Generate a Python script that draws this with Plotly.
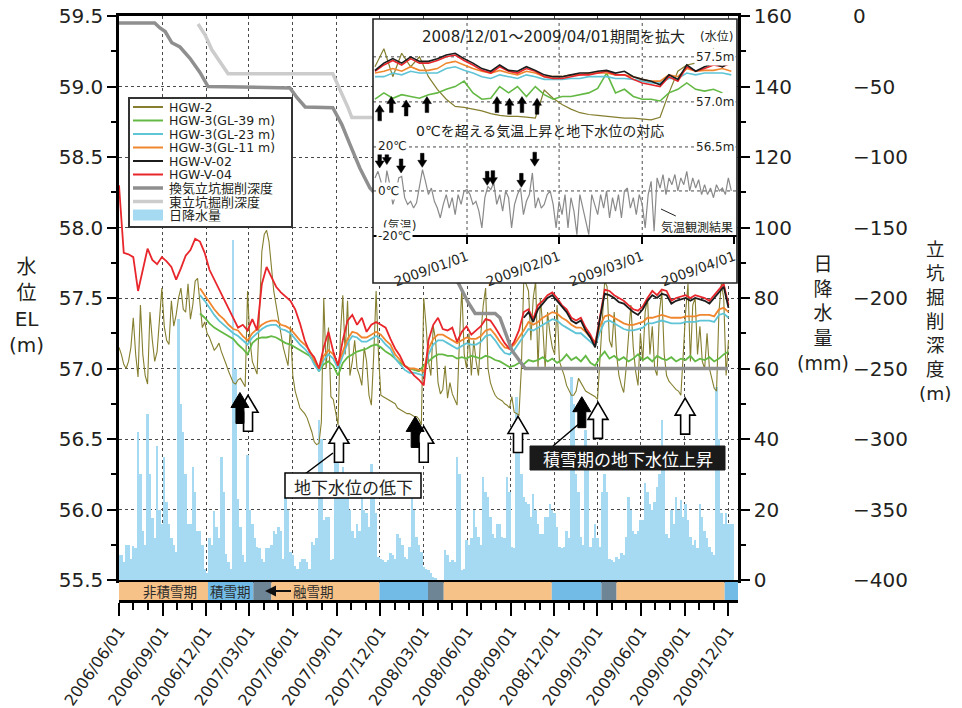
import pandas as pd
import plotly.graph_objects as go

# ============================ DATA ============================
# Main chart ---------------------------------------------------------------------------
HGW2_START, HGW2_FREQ = "2006-06-01", "5D"
hgw2 = [
    57.15, 57.10, 57.03, 57.00, 57.05, 57.15, 57.36, 57.10, 56.94, 57.45, 57.10, 56.95, 56.89, 57.40, 57.20, 57.05, 57.12, 57.35, 57.57, 57.30,
    57.20, 57.17, 57.48, 57.30, 57.38, 57.50, 57.57, 57.42, 57.40, 57.60, 57.35, 57.45, 57.62, 57.64, 57.45, 57.29, 57.33, 57.25, 57.22, 57.18,
    57.13, 57.15, 57.18, 57.12, 57.08, 57.03, 56.98, 56.94, 56.90, 56.89, 56.92, 56.93, 56.90, 56.87, 57.55, 57.20, 57.05, 57.00, 56.96, 57.40,
    57.83, 57.95, 57.98, 57.90, 57.72, 57.55, 57.45, 57.36, 57.25, 57.15, 57.08, 57.02, 57.30, 56.95, 56.84, 56.78, 56.72, 56.70, 56.68, 56.65,
    56.60, 56.55, 56.48, 56.46, 56.47, 56.62, 57.50, 57.00, 57.29, 56.80, 56.78, 56.70, 56.60, 57.24, 57.52, 57.10, 57.48, 56.95, 57.05, 57.20,
    57.00, 56.95, 56.88, 57.15, 57.05, 56.81, 56.74, 57.10, 57.55, 57.10, 56.81, 56.80, 56.79, 56.78, 56.77, 56.76, 56.75, 56.72, 56.71, 56.70,
    56.69, 56.68, 56.68, 56.67, 56.66, 56.66, 56.64, 56.60, 57.50, 57.30, 57.05, 56.95, 57.30, 57.20, 56.90, 56.82, 56.85, 57.02, 56.79, 56.90,
    56.82, 56.78, 56.74, 57.20, 57.57, 57.10, 57.00, 57.25, 56.95, 57.20, 57.05, 56.95, 57.25, 57.45, 57.57, 57.00, 56.90, 56.85, 56.81, 56.79,
    56.78, 56.77, 56.75, 56.74, 56.72, 56.80, 56.69, 56.68, 56.67, 57.00, 57.62, 57.60, 57.55, 57.20, 57.50, 57.62, 57.00, 57.50, 57.30, 57.00,
    57.40, 57.25, 57.15, 57.10, 57.45, 57.05, 57.00, 56.95, 56.88, 56.85, 56.81, 56.81, 56.84, 56.93, 56.90, 56.86, 56.84, 56.83, 56.82, 56.81,
    56.80, 56.78, 57.05, 57.30, 57.62, 57.58, 57.20, 57.15, 57.40, 57.10, 56.95, 56.88, 56.83, 57.00, 57.25, 57.45, 57.15, 56.98, 56.88, 57.25,
    57.05, 57.40, 57.50, 57.10, 57.30, 57.00, 56.95, 57.40, 57.55, 57.10, 56.95, 56.91, 56.89, 56.87, 56.85, 56.84, 56.81, 57.10, 57.40, 57.60,
    57.05, 57.45, 57.50, 57.10, 57.30, 57.05, 57.00, 57.25, 57.00, 56.93, 56.86, 56.84, 57.40, 57.60, 57.50, 56.95, 57.20,
]
V04_START, V04_FREQ = "2006-06-01", "10D"
hgw_v04 = [
    58.30, 57.82, 57.81, 57.79, 57.55, 57.70, 57.85, 57.77, 57.74, 57.79, 57.76, 57.72, 57.63, 57.71, 57.80, 57.84, 57.92, 57.90, 57.82, 57.70,
    57.63, 57.56, 57.50, 57.43, 57.36, 57.29, 57.31, 57.27, 57.35, 57.27, 57.60, 57.72, 57.65, 57.58, 57.54, 57.51, 57.48, 57.42, 57.32, 57.20,
    57.12, 57.08, 57.00, 57.15, 57.26, 57.12, 57.02, 57.20, 57.34, 57.38, 57.31, 57.36, 57.26, 57.31, 57.33, 57.31, 57.29, 57.21, 57.14, 57.09,
    57.02, 56.99, 56.95, 56.92, 56.88, 57.20, 57.31, 57.36, 57.28, 57.27, 57.29, 57.19, 57.26, 57.30, 57.24, 57.27, 57.30, 57.35, 57.34, 57.29,
    57.23, 57.18, 57.14, 57.19, 57.27, 57.40, 57.42, 57.35, 57.45, 57.48, 57.52, 57.54, 57.50, 57.45, 57.42, 57.36, 57.34, 57.36, 57.29, 57.24,
    57.17, 57.38, 57.56, 57.55, 57.52, 57.50, 57.48, 57.45, 57.42, 57.41, 57.44, 57.50, 57.55, 57.52, 57.56, 57.55, 57.48, 57.50, 57.51, 57.52,
    57.50, 57.52, 57.51, 57.50, 57.48, 57.52, 57.56, 57.60, 57.45,
]
HGW3_START, HGW3_FREQ = "2006-11-18", "10D"
hgw3_gl39 = [
    57.39, 57.36, 57.32, 57.29, 57.27, 57.25, 57.23, 57.21, 57.17, 57.14, 57.10, 57.18, 57.21, 57.22, 57.22, 57.23, 57.22, 57.20, 57.18, 57.17,
    57.15, 57.13, 57.11, 57.09, 57.05, 56.98, 57.03, 57.05, 57.02, 56.95, 57.04, 57.08, 57.10, 57.12, 57.13, 57.14, 57.16, 57.17, 57.15, 57.12,
    57.10, 57.07, 57.04, 57.02, 57.00, 56.99, 56.98, 57.02, 57.05, 57.08, 57.10, 57.10, 57.09, 57.09, 57.07, 57.08, 57.07, 57.09, 57.08, 57.07,
    57.09, 57.08, 57.06, 57.05, 57.03, 57.01, 57.02, 57.04, 57.03, 57.06, 57.05, 57.06, 57.08, 57.05, 57.07, 57.04, 57.06, 57.10, 57.06, 57.08,
    57.05, 57.09, 57.04, 57.02, 57.08, 57.12, 57.07, 57.09, 57.06, 57.08, 57.05, 57.07, 57.10, 57.06, 57.08, 57.05, 57.09, 57.07, 57.06, 57.08,
    57.05, 57.07, 57.06, 57.09, 57.05, 57.07, 57.06, 57.08, 57.05, 57.07, 57.10, 57.12,
]
hgw3_gl23 = [
    57.52, 57.48, 57.43, 57.38, 57.34, 57.31, 57.28, 57.25, 57.23, 57.20, 57.17, 57.22, 57.25, 57.28, 57.30, 57.31, 57.31, 57.28, 57.27, 57.25,
    57.21, 57.17, 57.14, 57.10, 57.03, 56.98, 57.06, 57.10, 57.07, 57.00, 57.09, 57.18, 57.23, 57.22, 57.19, 57.19, 57.21, 57.23, 57.21, 57.17,
    57.14, 57.07, 57.03, 56.99, 56.97, 56.97, 56.96, 56.95, 57.10, 57.17, 57.20, 57.20, 57.18, 57.16, 57.14, 57.16, 57.18, 57.17, 57.17, 57.19,
    57.23, 57.24, 57.20, 57.15, 57.11, 57.10, 57.13, 57.18, 57.23, 57.28, 57.27, 57.29, 57.31, 57.33, 57.35, 57.34, 57.31, 57.29, 57.27, 57.25,
    57.25, 57.22, 57.19, 57.16, 57.26, 57.33, 57.34, 57.32, 57.30, 57.28, 57.27, 57.27, 57.28, 57.29, 57.32, 57.32, 57.33, 57.34, 57.33, 57.32,
    57.32, 57.32, 57.33, 57.33, 57.33, 57.34, 57.34, 57.34, 57.33, 57.38, 57.39, 57.36,
]
hgw3_gl11 = [
    57.57, 57.52, 57.47, 57.42, 57.38, 57.35, 57.31, 57.28, 57.27, 57.23, 57.20, 57.25, 57.28, 57.31, 57.33, 57.34, 57.34, 57.31, 57.30, 57.28,
    57.24, 57.20, 57.17, 57.13, 57.06, 57.00, 57.09, 57.13, 57.10, 57.03, 57.12, 57.21, 57.26, 57.25, 57.22, 57.22, 57.24, 57.26, 57.24, 57.20,
    57.17, 57.10, 57.06, 57.02, 57.00, 57.00, 56.99, 56.98, 57.14, 57.21, 57.24, 57.24, 57.22, 57.20, 57.18, 57.20, 57.22, 57.21, 57.21, 57.23,
    57.27, 57.28, 57.24, 57.19, 57.15, 57.14, 57.17, 57.22, 57.27, 57.33, 57.31, 57.33, 57.36, 57.38, 57.40, 57.39, 57.36, 57.34, 57.31, 57.29,
    57.29, 57.26, 57.22, 57.19, 57.30, 57.37, 57.38, 57.36, 57.34, 57.32, 57.31, 57.31, 57.32, 57.33, 57.36, 57.36, 57.37, 57.38, 57.37, 57.36,
    57.36, 57.36, 57.37, 57.37, 57.37, 57.38, 57.38, 57.38, 57.37, 57.42, 57.43, 57.40,
]
V02_START, V02_FREQ = "2008-09-28", "10D"
hgw_v02 = [
    57.36, 57.40, 57.33, 57.42, 57.46, 57.50, 57.52, 57.48, 57.44, 57.40, 57.34, 57.32, 57.34, 57.27, 57.22, 57.15, 57.35, 57.53, 57.52, 57.50,
    57.47, 57.46, 57.43, 57.40, 57.38, 57.42, 57.48, 57.52, 57.50, 57.53, 57.52, 57.46, 57.48, 57.49, 57.50, 57.48, 57.50, 57.49, 57.48, 57.46,
    57.50, 57.54, 57.58, 57.43,
]
RAIN_START, RAIN_FREQ = "2006-06-01", "5D"
rain_mm = [
    7, 7, 5, 10, 10, 6, 9.7, 9, 42, 30, 14, 10, 47, 30, 17.5, 12, 38, 20, 16, 35,
    22, 16, 12, 10, 8, 74, 50, 42, 30, 16, 16, 32, 25, 14, 14, 10, 3, 2, 12, 10,
    19.7, 15, 12, 35, 25, 7.5, 5, 3, 96.5, 60, 23, 15, 7, 5, 35.6, 20, 16, 12, 9.5, 9,
    6, 5, 9, 9, 10, 14, 13, 15, 14, 6, 23.6, 20, 8, 7, 4, 3, 5, 6, 6, 5,
    3, 10.9, 10, 12, 45.4, 40, 17, 18, 18, 5.7, 6, 34, 34, 30, 32, 28, 23.6, 20, 14, 12,
    16, 14, 23.6, 20, 18.9, 15, 33, 25, 18.9, 6.6, 6, 5.7, 5, 5.7, 7.6, 7, 6, 13, 12, 10,
    6.6, 6, 9.5, 23.6, 20, 12.3, 10, 8, 3.8, 3, 2.8, 2, 0.9, 0.5, 0, 0, 0, 8.5, 7, 5,
    5.7, 5, 35, 30, 2.8, 3, 11.3, 10, 12, 19.8, 15, 12.3, 10, 29.3, 25, 23.6, 18, 13, 12, 16,
    16, 12.3, 12, 29.3, 25, 9.5, 9, 52, 45, 30, 23.6, 22, 21.7, 18, 24.5, 20, 16, 13, 13, 18,
    18, 21.7, 20, 18.9, 15, 9.5, 9, 9.5, 14, 12, 57.7, 50, 30.2, 25, 12.3, 10, 42.5, 35, 9.5, 12,
    16, 12, 9.5, 25, 30.2, 25, 6, 5.7, 5, 6.6, 6, 7.6, 7, 12.3, 23.6, 20, 14, 13, 14, 17,
    17, 27.4, 25, 21.7, 20, 22, 26.5, 30, 45.4, 35, 13, 12, 19.8, 16, 23.6, 20, 22.7, 18, 21.7, 17,
    12.3, 10, 11.3, 9, 21.7, 18, 14, 12, 9.5, 8, 7, 54.8, 40, 18.9, 16, 18.9, 16, 16, 16,
]
vent_dates = ["2006-06-01", "2006-08-15", "2006-08-26", "2006-09-06", "2006-09-20", "2006-10-07", "2006-10-28",
              "2006-11-18", "2006-12-05", "2007-05-26", "2007-06-10", "2007-06-27", "2007-08-24", "2007-09-12",
              "2007-09-29", "2007-10-20", "2007-11-10", "2008-05-13", "2008-06-03", "2008-06-18", "2008-07-30",
              "2008-08-09", "2008-09-03", "2008-10-01", "2009-12-01"]
vent_depth = [-5, -5, -8.5, -11, -19, -22, -30, -40, -50, -51, -58, -64.5, -65, -77, -91, -108, -122,
              -189, -203, -211, -211, -214, -237, -250, -250]
east_dates = ["2006-11-14", "2006-11-29", "2006-12-13", "2006-12-30", "2007-01-16", "2007-08-24", "2007-09-08",
              "2007-09-25", "2007-10-03", "2007-11-23"]
east_depth = [-5.7, -13.5, -24, -33, -41, -41, -52, -65, -72, -72]

season_starts = ["2006-06-01", "2006-12-05", "2007-03-10", "2007-04-17", "2007-11-30", "2008-03-11",
                 "2008-04-13", "2008-11-26", "2009-03-10", "2009-04-11", "2009-11-24"]
season_kinds = ["非積雪期", "積雪期", "融雪期", "非積雪期", "積雪期", "融雪期",
                "非積雪期", "積雪期", "融雪期", "非積雪期", "積雪期"]
SEASON_END = "2009-12-22"

# Inset (2008/12/01 - 2009/04/01) --------------------------------------------------------
INSET_START, INSET_FREQ = "2008-12-01", "3D"
in_hgw2 = [57.39, 57.59, 57.28, 57.54, 57.39, 57.50, 57.28, 57.14, 57.03, 56.95, 56.94, 56.92, 56.90, 56.87,
           56.85, 56.84, 56.84, 56.83, 56.82, 57.13, 57.04, 56.97, 56.92, 56.88, 56.86, 56.85, 56.84, 56.83,
           56.82, 56.82, 56.81, 56.80, 56.83, 57.10, 57.34, 57.41, 57.43, 57.46, 57.59, 57.46, 57.41]
in_gl39 = [57.03, 57.10, 57.04, 57.08, 57.06, 57.04, 57.08, 57.10, 57.14, 57.17, 57.23, 57.10, 57.03, 57.04,
           57.17, 57.10, 57.17, 57.06, 57.17, 57.08, 57.03, 57.06, 57.06, 57.08, 57.10, 57.15, 57.32, 57.10,
           57.14, 57.06, 57.03, 57.03, 57.01, 57.10, 57.14, 57.21, 57.14, 57.12, 57.14, 57.10, None]
in_gl23 = [57.28, 57.28, 57.32, 57.30, 57.34, 57.32, 57.32, 57.32, 57.37, 57.39, 57.35, 57.32, 57.28, 57.26,
           57.30, 57.28, 57.26, 57.30, 57.28, 57.25, 57.25, 57.25, 57.26, 57.26, 57.28, 57.28, 57.28, 57.26,
           57.26, 57.25, 57.23, 57.21, 57.21, 57.26, 57.26, 57.32, 57.30, 57.32, 57.32, 57.32, 57.30]
in_gl11 = [57.32, 57.34, 57.37, 57.34, 57.39, 57.35, 57.35, 57.37, 57.43, 57.45, 57.41, 57.37, 57.34, 57.32,
           57.35, 57.32, 57.30, 57.34, 57.32, 57.28, 57.28, 57.28, 57.30, 57.30, 57.32, 57.32, 57.32, 57.30,
           57.30, 57.28, 57.25, 57.23, 57.23, 57.30, 57.28, 57.37, 57.34, 57.35, 57.35, 57.37, 57.34]
in_v04 = [57.34, 57.41, 57.46, 57.41, 57.48, 57.43, 57.43, 57.46, 57.50, 57.52, 57.46, 57.41, 57.35, 57.32,
          57.39, 57.34, 57.32, 57.37, 57.34, 57.28, 57.26, 57.26, 57.28, 57.30, 57.30, 57.32, 57.34, 57.30,
          57.30, 57.25, 57.21, 57.19, 57.17, 57.28, 57.23, 57.39, 57.34, 57.37, 57.41, 57.39, 57.43]
in_v02 = [57.35, 57.43, 57.48, 57.43, 57.50, 57.45, 57.45, 57.48, 57.52, 57.54, 57.48, 57.43, 57.37, 57.34,
          57.41, 57.35, 57.34, 57.39, 57.35, 57.30, 57.28, 57.28, 57.30, 57.32, 57.32, 57.34, 57.35, 57.32,
          57.34, 57.28, 57.25, 57.23, 57.19, 57.30, 57.25, 57.41, 57.34, 57.39, 57.43, 57.39, 57.45]
TEMP_START, TEMP_FREQ = "2008-12-01", "1D"
temp_c = [
    5.8, 8.7, 4.3, -3, 9, 2.8, -6, -1.6, 5.8, 6.5,
    -3, -6, -4.6, -7.6, -5.3, 2.8, 9.5, 4.3, -1.6, 1.3,
    -4.6, -7.6, -12, -6, -1.6, -7.6, -3, -10.5, -1.6, -6,
    0, 0.6, -1.6, -6, -4.6, -9, -16.4, -3, 2, 0.6,
    3.6, -6, -1.6, -9, 0, -3, -16.4, -6, -1.6, 1.3,
    -10.5, -4.6, -1.6, 8, -7.6, -3, -7.6, -6, -1.6, 0,
    -6, -16.4, -4.6, -10.5, -1.6, -16.4, -3, -9, -19.4, -1.6,
    -7.6, -13.5, -19.4, -1.6, -6, -10.5, -1.6, -7.6, 0, -12,
    -3, -9, -1.6, -12, 0, 1.3, -7.6, -3, -10.5, -1.6,
    -6, -16.4, -1.6, 4.3, -17.9, 5.8, 1.3, 7.3, -1.6, 5.8,
    2.8, 7.3, 0, 5.8, 2.8, 8.7, 0, 5.8, 1.3, 5,
    -1.6, 2.8, -1.6, 1.3, -3, 2.8, 0, 1.3, -1.6, 5.8,
    0,
]
inset_ticks = ["2009-01-01", "2009-02-01", "2009-03-01", "2009-04-01"]

# Arrow marks (tip position: date, level) ------------------------------------------------
white_arrow_dates = ["2007-02-27", "2007-09-06", "2008-03-02", "2008-09-16", "2009-03-03", "2009-09-02"]
white_arrow_levels = [56.81, 56.59, 56.59, 56.66, 56.76, 56.79]
black_arrow_dates = ["2007-02-10", "2008-02-13", "2009-01-28"]
black_arrow_levels = [56.83, 56.66, 56.80]
inset_up_dates = ["2008-12-02 14:00", "2008-12-06 12:00", "2008-12-11 12:00", "2008-12-18 12:00",
                  "2009-01-11 02:00", "2009-01-15 07:00", "2009-01-19 12:00", "2009-01-24 14:00"]
inset_up_levels = [56.967, 57.059, 57.022, 57.059, 57.059, 57.04, 57.059, 57.04]
inset_down_dates = ["2008-12-02 14:00", "2008-12-05 00:00", "2008-12-09 19:00", "2008-12-16 22:00",
                    "2009-01-07 19:00", "2009-01-09 17:00", "2009-01-19 07:00", "2009-01-23 19:00"]
inset_down_temps = [10.2, 11.7, 8.0, 10.5, 2.5, 2.8, 1.6, 11.0]

# ============================ STYLE / GEOMETRY ============================
FIG_W, FIG_H = 962, 708
ML, MR, MT, MB = 119, 10, 16, 108
PW, PH = FIG_W - ML - MR, FIG_H - MT - MB


def px(x):  # page x (pixels) -> paper fraction
    return (x - ML) / PW


def py(y):  # page y (pixels) -> paper fraction
    return (FIG_H - MB - y) / PH


NUM_FONT = "DejaVu Sans, Noto Sans CJK JP"
JP_FONT = "Noto Sans CJK JP, DejaVu Sans"
TXT = "#231f20"
GRID = "#4a4a4a"
C = dict(hgw2="#857f2f", gl39="#63b944", gl23="#5ec4d6", gl11="#f0862e", v02="#1c1c1c", v04="#e8262b",
         vent="#8f8f8f", east="#cccccc", rain="#a6daf3", temp="#8a8a8a")
SEASON_COL = {"非積雪期": "#f6c287", "積雪期": "#72bbe7", "融雪期": "#6e8596"}
X0, X1 = "2006-06-01", "2009-12-22"
IX0, IX1 = "2008-11-30 08:00", "2009-04-01 22:00"
Y4R = [54.99, 57.92]
Y5R = [-40.9, 76.4]


def drange(start, n, freq):
    return pd.date_range(start, periods=n, freq=freq)


fig = go.Figure()

# ---- main chart traces ----
fig.add_trace(go.Bar(x=drange(RAIN_START, len(rain_mm), RAIN_FREQ), y=rain_mm, width=5 * 86400000,
                     marker=dict(color=C["rain"], line=dict(width=0)), xaxis="x", yaxis="y", name="日降水量"))
main_lines = [
    ("HGW-2", drange(HGW2_START, len(hgw2), HGW2_FREQ), hgw2, C["hgw2"], 1.1),
    ("HGW-3(GL-39 m)", drange(HGW3_START, len(hgw3_gl39), HGW3_FREQ), hgw3_gl39, C["gl39"], 1.8),
    ("HGW-3(GL-23 m)", drange(HGW3_START, len(hgw3_gl23), HGW3_FREQ), hgw3_gl23, C["gl23"], 1.8),
    ("HGW-3(GL-11 m)", drange(HGW3_START, len(hgw3_gl11), HGW3_FREQ), hgw3_gl11, C["gl11"], 1.8),
    ("HGW-V-04", drange(V04_START, len(hgw_v04), V04_FREQ), hgw_v04, C["v04"], 1.8),
    ("HGW-V-02", drange(V02_START, len(hgw_v02), V02_FREQ), hgw_v02, C["v02"], 1.8),
]
for name, xs, ys, col, w in main_lines:
    fig.add_trace(go.Scatter(x=xs, y=ys, mode="lines", name=name, line=dict(color=col, width=w),
                             xaxis="x", yaxis="y2"))
fig.add_trace(go.Scatter(x=vent_dates, y=vent_depth, mode="lines", name="換気立坑掘削深度",
                         line=dict(color=C["vent"], width=3.5), xaxis="x", yaxis="y3"))
fig.add_trace(go.Scatter(x=east_dates, y=east_depth, mode="lines", name="東立坑掘削深度",
                         line=dict(color=C["east"], width=3.5), xaxis="x", yaxis="y3"))

# ---- inset traces ----
ix = drange(INSET_START, len(in_hgw2), INSET_FREQ)
for ys, col, w in [(in_hgw2, C["hgw2"], 1.2), (in_gl39, C["gl39"], 1.6), (in_gl23, C["gl23"], 1.6),
                   (in_gl11, C["gl11"], 1.6), (in_v04, C["v04"], 1.6), (in_v02, C["v02"], 1.6)]:
    fig.add_trace(go.Scatter(x=ix, y=ys, mode="lines", line=dict(color=col, width=w), xaxis="x2", yaxis="y4",
                             connectgaps=False))
fig.add_trace(go.Scatter(x=drange(TEMP_START, len(temp_c), TEMP_FREQ), y=temp_c, mode="lines",
                         line=dict(color=C["temp"], width=1.2), xaxis="x2", yaxis="y5", name="気温"))

# ============================ SHAPES ============================
shapes = []
season_ends = season_starts[1:] + [SEASON_END]
for s, e, k in zip(season_starts, season_ends, season_kinds):
    shapes.append(dict(type="rect", xref="x3", yref="y6", x0=s, x1=e, y0=0, y1=1,
                       fillcolor=SEASON_COL[k], line=dict(width=0), layer="below"))
# inset white background + grid
shapes.append(dict(type="rect", xref="x2", yref="y4", x0=IX0, x1=IX1, y0=Y4R[0], y1=Y4R[1],
                   fillcolor="white", line=dict(width=0), layer="below"))
for lv in [56.5, 57.0, 57.5]:
    shapes.append(dict(type="line", xref="x2", yref="y4", x0=IX0, x1=IX1, y0=lv, y1=lv,
                       line=dict(color=GRID, width=1, dash="dot"), layer="below"))
shapes.append(dict(type="line", xref="x2", yref="y5", x0=IX0, x1=IX1, y0=0, y1=0,
                   line=dict(color=GRID, width=1, dash="dot"), layer="below"))
for t in inset_ticks[:3]:
    shapes.append(dict(type="line", xref="x2", yref="y5", x0=t, x1=t, y0=-20, y1=Y5R[1],
                       line=dict(color=GRID, width=1, dash="dot"), layer="below"))

# legend (custom, compact like the original)
legend_items = [("HGW-2", C["hgw2"], 2, "line"), ("HGW-3(GL-39 m)", C["gl39"], 2, "line"),
                ("HGW-3(GL-23 m)", C["gl23"], 2, "line"), ("HGW-3(GL-11 m)", C["gl11"], 2, "line"),
                ("HGW-V-02", C["v02"], 2, "line"), ("HGW-V-04", C["v04"], 2, "line"),
                ("換気立坑掘削深度", C["vent"], 3.5, "line"), ("東立坑掘削深度", C["east"], 3.5, "line"),
                ("日降水量", C["rain"], 0, "bar")]
shapes.append(dict(type="rect", xref="paper", yref="paper", x0=px(129), x1=px(292), y0=py(227), y1=py(98),
                   fillcolor="white", line=dict(color="#333333", width=2), layer="above"))
annotations = []
for i, (name, col, w, kind) in enumerate(legend_items):
    yy = 107 + 13.5 * i
    if kind == "line":
        shapes.append(dict(type="line", xref="paper", yref="paper", x0=px(133), x1=px(163), y0=py(yy), y1=py(yy),
                           line=dict(color=col, width=w), layer="above"))
    else:
        shapes.append(dict(type="rect", xref="paper", yref="paper", x0=px(133), x1=px(163), y0=py(yy + 5.5),
                           y1=py(yy - 5.5), fillcolor=col, line=dict(width=0), layer="above"))
    ascii_name = all(ord(ch) < 128 for ch in name)
    annotations.append(dict(text=name, xref="paper", yref="paper", x=px(168), y=py(yy), xanchor="left",
                            yanchor="middle", showarrow=False, height=13.4, valign="middle", borderpad=0,
                            font=dict(family=NUM_FONT if ascii_name else JP_FONT, size=12.5 if ascii_name else 13,
                                      color=TXT)))


def up_arrow(hw, head, sw, total):
    return (f"M 0,0 L {hw},{-head} L {sw},{-head} L {sw},{-total} L {-sw},{-total} "
            f"L {-sw},{-head} L {-hw},{-head} Z")


def down_arrow(hw, head, sw, total):
    return (f"M 0,0 L {hw},{head} L {sw},{head} L {sw},{total} L {-sw},{total} "
            f"L {-sw},{head} L {-hw},{head} Z")


for d, lv in zip(white_arrow_dates, white_arrow_levels):
    shapes.append(dict(type="path", path=up_arrow(10, 17, 4.5, 36), xref="x", yref="y2", xsizemode="pixel",
                       ysizemode="pixel", xanchor=d, yanchor=lv, fillcolor="white",
                       line=dict(color="black", width=1.6), layer="above"))
for d, lv in zip(black_arrow_dates, black_arrow_levels):
    shapes.append(dict(type="path", path=up_arrow(9, 15, 4, 31), xref="x", yref="y2", xsizemode="pixel",
                       ysizemode="pixel", xanchor=d, yanchor=lv, fillcolor="black",
                       line=dict(color="black", width=1), layer="above"))
for d, lv in zip(inset_up_dates, inset_up_levels):
    shapes.append(dict(type="path", path=up_arrow(4.5, 7, 1.8, 16), xref="x2", yref="y4", xsizemode="pixel",
                       ysizemode="pixel", xanchor=d, yanchor=lv, fillcolor="black",
                       line=dict(color="black", width=0.5), layer="above"))
for d, tv in zip(inset_down_dates, inset_down_temps):
    shapes.append(dict(type="path", path=down_arrow(4.5, 7, 1.8, 14), xref="x2", yref="y5", xsizemode="pixel",
                       ysizemode="pixel", xanchor=d, yanchor=tv, fillcolor="black",
                       line=dict(color="black", width=0.5), layer="above"))

# call-out boxes and connectors
shapes.append(dict(type="line", xref="paper", yref="paper", x0=px(305), y0=py(474), x1=px(333), y1=py(453),
                   line=dict(color="black", width=1.5), layer="above"))
shapes.append(dict(type="line", xref="paper", yref="paper", x0=px(553), y0=py(446), x1=px(580), y1=py(423),
                   line=dict(color="black", width=1.5), layer="above"))
shapes.append(dict(type="rect", xref="paper", yref="paper", x0=px(285), x1=px(421), y0=py(498), y1=py(473),
                   fillcolor="white", line=dict(color="black", width=1.5), layer="above"))
shapes.append(dict(type="rect", xref="paper", yref="paper", x0=px(530), x1=px(725), y0=py(470), y1=py(446),
                   fillcolor="#1a1a1a", line=dict(color="#1a1a1a", width=1), layer="above"))
# inset border
shapes.append(dict(type="rect", xref="paper", yref="paper", x0=px(373), x1=px(737), y0=py(283), y1=py(19),
                   fillcolor="rgba(0,0,0,0)", line=dict(color="#222222", width=1.6), layer="above"))


# ============================ ANNOTATIONS ============================
def note(text, x, y, size, family=JP_FONT, color=TXT, **kw):
    d = dict(text=text, xref="paper", yref="paper", x=px(x), y=py(y), xanchor="center", yanchor="middle",
             showarrow=False, font=dict(family=family, size=size, color=color))
    d.update(kw)
    annotations.append(d)


note("水<br>位<br>EL<br>(m)", 26, 306, 20, family=NUM_FONT)
note("日<br>降<br>水<br>量<br>(mm)", 823, 314, 19, family=NUM_FONT)
note("立<br>坑<br>掘<br>削<br>深<br>度<br>(m)", 935, 321, 18.5, family=NUM_FONT)

note("地下水位の低下", 353, 486, 17)
note("積雪期の地下水位上昇", 627.5, 458.5, 17, color="white")

note("非積雪期", 170, 591, 13.5, color="#2b2b2b")
note("積雪期", 230, 591, 13.5, color="#2b2b2b")
annotations.append(dict(text="融雪期", xref="paper", yref="paper", x=px(265), y=py(591), ax=48, ay=0,
                        showarrow=True, arrowhead=2, arrowsize=1.1, arrowwidth=2, arrowcolor="#111111",
                        standoff=0, font=dict(family=JP_FONT, size=13.5, color="#2b2b2b")))

note("2008/12/01～2009/04/01期間を拡大", 553, 37, 15, family=NUM_FONT)
note("(水位)", 716, 37, 12, family=NUM_FONT)
note("0℃を超える気温上昇と地下水位の対応", 540, 131, 14, family=NUM_FONT)
note("(気温)", 399, 225, 12, family=NUM_FONT)
annotations.append(dict(text="気温観測結果", xref="paper", yref="paper", x=px(661), y=py(209), ax=36, ay=17,
                        showarrow=True, arrowhead=0, arrowwidth=1, arrowcolor="#222222",
                        font=dict(family=JP_FONT, size=12, color=TXT)))
for lv in [57.5, 57.0, 56.5]:
    annotations.append(dict(text=f"{lv:.1f}m", xref="paper", yref="y4", x=px(736), y=lv, xanchor="right",
                            yanchor="middle", showarrow=False, bgcolor="white",
                            font=dict(family=NUM_FONT, size=12, color=TXT)))
for tv in [20, 0, -20]:
    annotations.append(dict(text=f"{tv}℃", xref="paper", yref="y5", x=px(376), y=tv, xanchor="left",
                            yanchor="middle", showarrow=False, bgcolor="white",
                            font=dict(family=NUM_FONT, size=12, color=TXT)))

# ============================ LAYOUT ============================
tickfont = dict(family=NUM_FONT, size=20, color=TXT)
fig.update_layout(
    template="none",
    width=FIG_W, height=FIG_H, margin=dict(l=ML, r=MR, t=MT, b=MB, pad=0, autoexpand=False),
    paper_bgcolor="white", plot_bgcolor="white", showlegend=False, bargap=0,
    font=dict(family=NUM_FONT, color=TXT, size=14),
    xaxis=dict(type="date", domain=[0, px(738)], range=[X0, X1], anchor="y", showline=True, mirror=True,
               linecolor="black", linewidth=2.5, ticks="", showticklabels=False, showgrid=True, gridcolor=GRID,
               griddash="dot", gridwidth=1, dtick="M3", tick0="2006-06-01", zeroline=False, automargin=False),
    yaxis=dict(domain=[py(580), 1], range=[0, 160], side="right", anchor="x", showline=True, linecolor="black",
               linewidth=2.5, ticks="outside", ticklen=9, tickwidth=2, tickcolor="black", dtick=20, tick0=0,
               minor=dict(dtick=10, ticklen=5, tickwidth=1.5, tickcolor="black"), showgrid=False,
               zeroline=False, tickfont=tickfont, automargin=False, ticklabeloverflow="allow"),
    yaxis2=dict(overlaying="y", side="left", anchor="x", range=[55.5, 59.5], dtick=0.5, tick0=55.5,
                tickformat=".1f", showline=True, linecolor="black", linewidth=2.5, ticks="outside", ticklen=9,
                tickwidth=2, tickcolor="black", minor=dict(dtick=0.25, ticklen=5, tickwidth=1.5, tickcolor="black"),
                showgrid=True, gridcolor=GRID, griddash="dot", gridwidth=1, zeroline=False, tickfont=tickfont,
                automargin=False, ticklabeloverflow="allow"),
    yaxis3=dict(overlaying="y", anchor="free", position=px(852), side="right", range=[-400, 0],
                tickvals=list(range(-400, 1, 50)), showline=False, ticks="", showgrid=False, zeroline=False,
                tickfont=tickfont, automargin=False, ticklabeloverflow="allow"),
    xaxis2=dict(type="date", domain=[px(373), px(737)], range=[IX0, IX1], anchor="free", position=py(236),
                showline=True, linecolor="black", linewidth=2, ticks="outside", ticklen=7, tickwidth=1.5,
                tickcolor="black", tickvals=inset_ticks, tickformat="%Y/%m/%d", tickangle=-20,
                tickfont=dict(family=NUM_FONT, size=13.5, color=TXT), showgrid=False, zeroline=False,
                automargin=False, ticklabeloverflow="allow"),
    yaxis4=dict(domain=[py(283), py(19)], anchor="x2", range=Y4R, visible=False, automargin=False),
    yaxis5=dict(overlaying="y4", anchor="x2", range=Y5R, visible=False, automargin=False),
    xaxis3=dict(type="date", domain=[0, px(738)], range=[X0, X1], anchor="y6", showline=True, linecolor="black",
                linewidth=2.5, ticks="outside", ticklen=13, tickwidth=2, tickcolor="black", dtick="M3",
                tick0="2006-06-01", tickformat="%Y/%m/%d", tickangle=-55,
                tickfont=dict(family=NUM_FONT, size=16, color=TXT),
                minor=dict(dtick="M1", ticklen=7, tickwidth=1.5, tickcolor="black"), showgrid=False, zeroline=False,
                automargin=False, ticklabeloverflow="allow"),
    yaxis6=dict(domain=[0, py(582)], anchor="x3", range=[0, 1], visible=False, automargin=False),
    shapes=shapes, annotations=annotations,
)

# the page's default 8 px body margin would push the 962x708 figure off the window
fig.write_html("out.html", config={"displayModeBar": False},
               post_script="document.body.style.margin='0px';")
